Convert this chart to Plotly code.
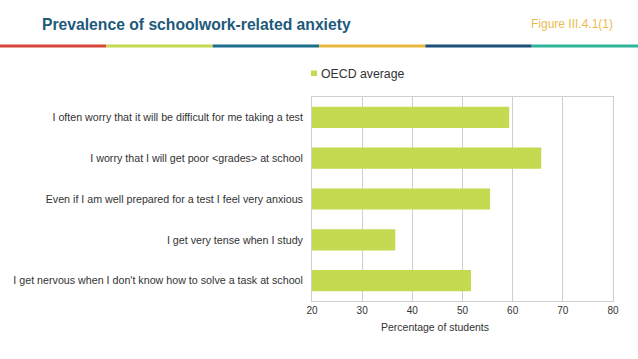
import plotly.graph_objects as go

categories = [
    "I get nervous when I don't know how to solve a task at school",
    "I get very tense when I study",
    "Even if I am well prepared for a test I feel very anxious",
    "I worry that I will get poor <grades> at school",
    "I often worry that it will be difficult for me taking a test",
]
values = [51.7, 36.6, 55.5, 65.7, 59.3]
series_name = "OECD average"
x_ticks = [20, 30, 40, 50, 60, 70, 80]

W, H = 638, 359
L, R, T, B = 312, 613, 97, 301
pw, ph = R - L, B - T

def px(x):
    return (x - L) / pw

def py(y):
    return (B - y) / ph

bar_color = "#c5d951"

fig = go.Figure()
fig.add_trace(go.Bar(
    y=[c.replace("<", "&lt;").replace(">", "&gt;") for c in categories],
    x=values, orientation="h", name=series_name,
    marker=dict(color=bar_color, line=dict(width=0)),
    showlegend=False,
))

seg_colors = ["#d9473a", "#c5d951", "#1b6f8c", "#e5b83c", "#1a4f78", "#2fb59a"]
shapes = []
for i, c in enumerate(seg_colors):
    shapes.append(dict(type="rect", xref="paper", yref="paper",
                       x0=px(i * W / 6), x1=px((i + 1) * W / 6),
                       y0=py(47.5), y1=py(44.5), fillcolor=c, line=dict(width=0), layer="above"))
# legend swatch
shapes.append(dict(type="rect", xref="paper", yref="paper",
                   x0=px(311), x1=px(317), y0=py(76), y1=py(70.5),
                   fillcolor=bar_color, line=dict(width=0)))

fig.update_layout(
    width=W, height=H,
    margin=dict(l=L, r=W - R, t=T, b=H - B),
    paper_bgcolor="white", plot_bgcolor="white",
    font=dict(family="Liberation Sans, Arial, sans-serif", color="#333333", size=10),
    bargap=0.48,
    shapes=shapes,
    showlegend=False,
    xaxis=dict(range=[20, 80], tickvals=x_ticks, showgrid=True, gridcolor="#cfcfcf", gridwidth=1,
               showline=True, linecolor="#cfcfcf", mirror=True, zeroline=False,
               tickfont=dict(size=10, color="#333333"), ticks="", ticklen=0),
    yaxis=dict(showline=True, linecolor="#cfcfcf", mirror=True, showgrid=False,
               tickfont=dict(size=10.7, color="#333333"), ticks="", ticksuffix="  "),
    annotations=[
        dict(text="<b>Prevalence of schoolwork-related anxiety</b>", xref="paper", yref="paper",
             x=px(40), y=py(25), xanchor="left", yanchor="middle", showarrow=False,
             font=dict(size=15.7, color="#1d5a7a", family="Liberation Sans, Arial, sans-serif")),
        dict(text="Figure III.4.1(1)", xref="paper", yref="paper",
             x=px(615), y=py(24), xanchor="right", yanchor="middle", showarrow=False,
             font=dict(size=12, color="#ebbd4f")),
        dict(text=series_name, xref="paper", yref="paper",
             x=px(319), y=py(73.5), xanchor="left", yanchor="middle", showarrow=False,
             font=dict(size=12.3, color="#333333")),
        dict(text="Percentage of students", xref="paper", yref="paper",
             x=px(435), y=py(327), xanchor="center", yanchor="middle", showarrow=False,
             font=dict(size=10.5, color="#333333")),
    ],
)

fig.write_html("out.html", config={"displayModeBar": False},
               post_script="document.body.style.margin='0';")
